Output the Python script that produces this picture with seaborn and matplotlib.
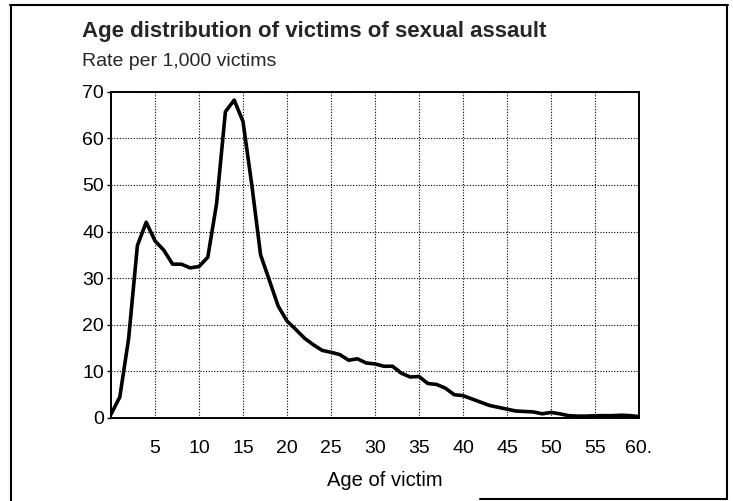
import matplotlib
matplotlib.use("Agg")
import matplotlib.pyplot as plt
from matplotlib.lines import Line2D
import seaborn as sns
import pandas as pd

ages = list(range(0, 61))
rates = [0.8, 4.5, 17, 37, 42, 38, 36, 33, 33, 32.2,
         32.5, 34.5, 46, 65.7, 68.2, 63.6, 50, 35, 29.5, 24,
         20.8, 19, 17.1, 15.7, 14.5, 14.1, 13.6, 12.4, 12.7, 11.8,
         11.6, 11.1, 11.1, 9.6, 8.8, 8.9, 7.4, 7.2, 6.4, 5.0,
         4.8, 4.1, 3.4, 2.7, 2.3, 1.9, 1.5, 1.4, 1.3, 0.9,
         1.2, 0.9, 0.5, 0.4, 0.4, 0.5, 0.5, 0.5, 0.6, 0.5, 0.3]
x_ticks = [5, 10, 15, 20, 25, 30, 35, 40, 45, 50, 55, 60]
x_tick_labels = ["5", "10", "15", "20", "25", "30", "35", "40", "45", "50", "55", "60."]
y_ticks = [0, 10, 20, 30, 40, 50, 60, 70]

title = "Age distribution of victims of sexual assault"
subtitle = "Rate per 1,000 victims"
xlabel = "Age of victim"

df = pd.DataFrame({"age": ages, "rate": rates})

sns.set_style("white")
plt.rcParams["font.family"] = ["Liberation Sans", "DejaVu Sans"]

W, H = 733, 501
fig = plt.figure(figsize=(W / 100, H / 100), dpi=100)
L, R, T, B = 111, 639, 91.7, 418
ax = fig.add_axes([L / W, 1 - B / H, (R - L) / W, (B - T) / H])

sns.lineplot(data=df, x="age", y="rate", ax=ax, color="black", linewidth=2.6)

ax.set_xlim(0, 60)
ax.set_ylim(0, 70)
ax.set_xticks(x_ticks)
ax.set_xticklabels(x_tick_labels)
ax.set_yticks(y_ticks)
ax.grid(True, color="black", linestyle=(0, (1, 1.5)), linewidth=0.8)
for s in ax.spines.values():
    s.set_color("black")
    s.set_linewidth(1.4)
ax.tick_params(axis="x", length=0, pad=16, labelsize=14, colors="black")
ax.tick_params(axis="y", length=3, width=1, pad=2, labelsize=14, colors="black", left=True)
ax.set_ylabel("")
ax.set_xlabel(xlabel, fontsize=14.5, color="black")
ax.xaxis.set_label_coords((385 - L) / (R - L), (B - 471) / (B - T))

fig.text(82 / W, 1 - 31 / H, title, fontsize=16, fontweight="bold", va="center", ha="left")
fig.text(82 / W, 1 - 61 / H, subtitle, fontsize=14, va="center", ha="left")

def px_line(x0, y0, x1, y1):
    fig.add_artist(Line2D([x0 / W, x1 / W], [1 - y0 / H, 1 - y1 / H],
                          transform=fig.transFigure, color="black", linewidth=1.5))

px_line(10, 5, 728, 5)
px_line(11, 5, 11, 501)
px_line(727, 5, 727, 499)
px_line(480, 499, 727, 499)

fig.savefig("out.png", dpi=100)
